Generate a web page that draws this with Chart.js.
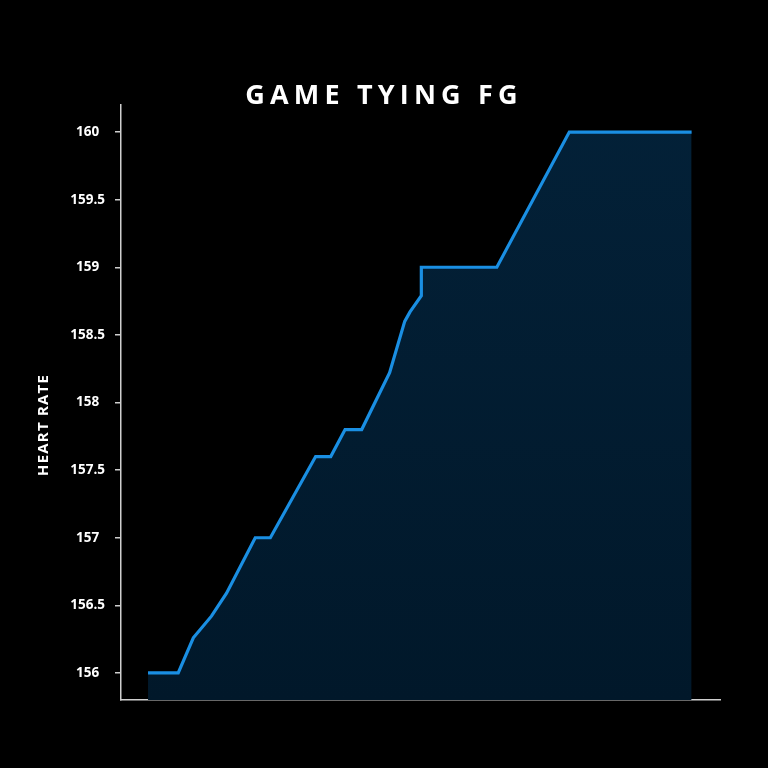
<html>
  <head>
    <title>Game tying FG</title>
    <script src="https://cdn.jsdelivr.net/npm/chart.js@4.4.1/dist/chart.umd.min.js"></script>
    <style>
      html, body { margin: 0; padding: 0; background: #000; }
      #wrap { position: relative; width: 768px; height: 768px; }
      #title {
        position: absolute; left: 0; top: 75px; width: 768px;
        text-align: center; color: #fff;
        font: 700 27px "Open Sans", sans-serif; letter-spacing: 5.2px;
      }
    </style>
  </head>
  <body>
    <div id="wrap">
      <div id="title">GAME TYING FG</div>
      <canvas id="hr" width="768" height="768"></canvas>
    </div>
    <script>
      // sample index (x) and heart rate (y) at each bend of the line
      var samples = [0, 2, 3, 4.2, 5.2, 7.1, 8.1, 11.1, 12.1, 13.05, 14.15, 16, 17, 17.35, 18.1, 18.1, 23.1, 27.9, 36];
      var heartRate = [156, 156, 156.26, 156.42, 156.59, 157, 157, 157.6, 157.6, 157.8, 157.8, 158.22, 158.6, 158.67, 158.79, 159, 159, 160, 160];
      var yTicks = [156, 156.5, 157, 157.5, 158, 158.5, 159, 159.5, 160];

      var points = samples.map(function(s, i) { return {x: s, y: heartRate[i]} });

      var yLabel = {
        id: 'yLabel',
        afterDraw: function(chart) {
          var ctx = chart.ctx;
          ctx.save();
          ctx.translate(44, 425);
          ctx.rotate(-Math.PI / 2);
          ctx.fillStyle = '#fff';
          ctx.font = '700 15px "Open Sans", sans-serif';
          ctx.letterSpacing = '1.2px';
          ctx.textAlign = 'center';
          ctx.textBaseline = 'middle';
          ctx.fillText('HEART RATE', 0, 0);
          ctx.restore();
        }
      };

      new Chart('hr', {
        type: 'line',
        data: {
          datasets: [{
            data: points,
            borderColor: '#1a8fe3',
            borderWidth: 3.2,
            pointRadius: 0,
            tension: 0,
            fill: 'start',
            backgroundColor: function(c) {
              var area = c.chart.chartArea;
              if (!area) return '#021d33';
              var g = c.chart.ctx.createLinearGradient(0, area.top, 0, area.bottom);
              g.addColorStop(0, '#032138');
              g.addColorStop(1, '#01182a');
              return g;
            }
          }]
        },
        options: {
          responsive: false,
          animation: false,
          layout: { padding: { left: 0, top: 105, right: 48, bottom: 0 } },
          plugins: { legend: { display: false }, tooltip: { enabled: false } },
          scales: {
            x: {
              type: 'linear',
              min: -1.79,
              max: 37.88,
              ticks: { display: false },
              grid: { display: false },
              border: { color: '#cfcfcf', width: 1.5 },
              afterFit: function(s) { s.height = 68 }
            },
            y: {
              min: 155.8,
              max: 160.2,
              afterBuildTicks: function(s) { s.ticks = yTicks.map(function(v) { return {value: v} }) },
              ticks: {
                color: '#fff',
                padding: 10,
                crossAlign: 'center',
                font: { family: '"Open Sans", sans-serif', size: 13.5, weight: '700' },
                callback: function(v) { return String(v) }
              },
              grid: { drawOnChartArea: false, drawTicks: true, tickLength: 6, color: '#cfcfcf', lineWidth: 1.5 },
              border: { color: '#cfcfcf', width: 1.5 },
              afterFit: function(s) { s.width = 121 }
            }
          }
        },
        plugins: [yLabel]
      });
    </script>
  </body>
</html>
